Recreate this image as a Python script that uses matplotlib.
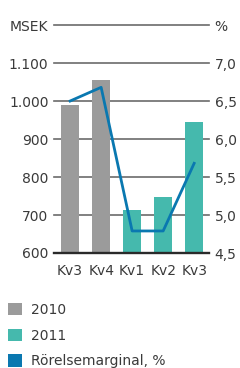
import matplotlib
matplotlib.use("Agg")
import matplotlib.pyplot as plt
from matplotlib.patches import Patch

categories = ["Kv3", "Kv4", "Kv1", "Kv2", "Kv3"]
years = ["2010", "2010", "2011", "2011", "2011"]
sales = [990, 1055, 713, 748, 945]
margin = [6.5, 6.68, 4.79, 4.79, 5.68]
left_ticks = [600, 700, 800, 900, 1000, 1100, 1200]
left_labels = ["600", "700", "800", "900", "1.000", "1.100", "MSEK"]
right_ticks = [4.5, 5.0, 5.5, 6.0, 6.5, 7.0, 7.5]
right_labels = ["4,5", "5,0", "5,5", "6,0", "6,5", "7,0", "%"]

c2010 = "#9b9b9b"
c2011 = "#45b9ad"
cline = "#0a78b0"
tcol = "#3a3a3a"

fig = plt.figure(figsize=(2.4, 3.68), dpi=100)
ax = fig.add_axes([0.225, 0.3125, 0.646, 0.6195])
x = list(range(len(categories)))
colors = [c2010 if y == "2010" else c2011 for y in years]
ax.bar(x, sales, width=0.58, color=colors, zorder=2, bottom=0)
ax.set_ylim(600, 1200)
ax.set_xlim(-0.52, 4.48)
ax.set_yticks(left_ticks)
ax.set_yticklabels(left_labels)
for t in left_ticks[1:]:
    ax.axhline(t, color="#6b6b6b", lw=1.2, zorder=1, clip_on=False)
ax.axhline(600, color="#2a2a2a", lw=1.7, zorder=3, clip_on=False)
for s in ax.spines.values():
    s.set_visible(False)
ax.tick_params(axis="y", length=0, pad=4, labelsize=10, labelcolor=tcol)
ax.set_xticks(x)
ax.set_xticklabels(categories)
ax.tick_params(axis="x", length=0, pad=8, labelsize=10, labelcolor=tcol)

ax2 = ax.twinx()
ax2.plot(x, margin, color=cline, lw=2, zorder=4)
ax2.set_ylim(4.5, 7.5)
ax2.set_yticks(right_ticks)
ax2.set_yticklabels(right_labels)
for s in ax2.spines.values():
    s.set_visible(False)
ax2.tick_params(axis="y", length=0, pad=4, labelsize=10, labelcolor=tcol)

handles = [Patch(facecolor=c2010, edgecolor="none", label="2010"),
           Patch(facecolor=c2011, edgecolor="none", label="2011"),
           Patch(facecolor=cline, edgecolor="none", label="Rörelsemarginal, %")]
leg = fig.legend(handles=handles, loc="upper left", bbox_to_anchor=(0.0, 0.2),
                 frameon=False, fontsize=10, handlelength=1.0, handleheight=1.0,
                 handletextpad=0.6, labelspacing=0.85, borderaxespad=0.2)
for t in leg.get_texts():
    t.set_color(tcol)

fig.savefig("out.png", dpi=100)
